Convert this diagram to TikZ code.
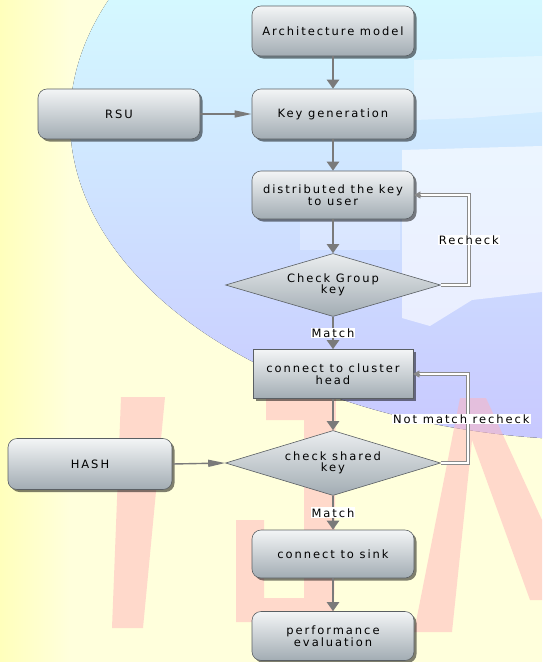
\documentclass[tikz,border=0pt]{standalone}
\usepackage{fontspec}
\newfontfamily\flowfont{DejaVu Sans}[LetterSpace=17]
\usetikzlibrary{shapes.geometric,shadows,arrows.meta}

\definecolor{bgcream}{HTML}{FFFFDC}
\definecolor{bgyellow}{HTML}{FFFFBC}
\definecolor{globetop}{HTML}{D4F8FF}
\definecolor{globebot}{HTML}{C8C8FF}
\definecolor{inkpink}{HTML}{FFB4BC}
\definecolor{boxtop}{HTML}{F3F5F6}
\definecolor{boxbot}{HTML}{A2ACB3}
\definecolor{boxline}{HTML}{5A5F63}
\definecolor{arrowgray}{HTML}{7A7A7A}
\definecolor{loopgray}{HTML}{8A8A8A}

\begin{document}
\begin{tikzpicture}[x=1pt,y=-1pt,
  txt/.style={font=\flowfont\fontsize{11.5}{11.5}\selectfont, text=black},
  box/.style={txt, rounded corners=9pt, draw=boxline, line width=0.6pt,
    top color=boxtop, bottom color=boxbot, align=center,
    minimum width=162pt, minimum height=50pt, inner sep=2pt,
    drop shadow={shadow xshift=2.5pt, shadow yshift=-2.5pt, opacity=0.5, fill=black}},
  decision/.style={txt, diamond, aspect=3.4, draw=boxline, line width=0.6pt,
    top color=boxtop!90!boxbot, bottom color=boxbot, align=center,
    minimum width=215pt, minimum height=63pt, inner sep=0pt},
  flow/.style={draw=arrowgray, line width=2.6pt, -{Triangle[width=12pt,length=9pt]}},
  side/.style={draw=arrowgray, line width=1.4pt, -{Triangle[width=7pt,length=17pt]}},
  loopline/.style={draw=loopgray, line width=0.9pt, double=white, double distance=1.8pt, shorten >=6pt},
  looptip/.style={draw=loopgray, fill=loopgray, line width=0.6pt, -{Triangle[width=7pt,length=6pt]}},
  tag/.style={txt, fill=white, inner sep=1pt}
]
\useasboundingbox (0,0) rectangle (542,662);
\clip (0,0) rectangle (542,662);

% paper background
\fill[bgcream] (0,0) rectangle (542,662);
\fill[left color=bgyellow, right color=bgcream] (0,0) rectangle (70,662);

% globe watermark
\begin{scope}
  \clip (600,120) ellipse [x radius=530, y radius=320];
  \fill[top color=globetop, bottom color=globebot] (0,0) rectangle (542,440);
  \fill[white, opacity=0.6] (402,150) -- (542,146) -- (542,292) -- (472,300)
    -- (430,326) -- (402,318) -- cycle;
  \fill[white, opacity=0.35] (414,60) -- (542,56) -- (542,112) -- (470,118)
    -- (414,120) -- cycle;
  \fill[white, opacity=0.25] (300,205) -- (400,205) -- (400,250) -- (300,250) -- cycle;
\end{scope}

% lettering watermark
\begin{scope}[opacity=0.5]
  \fill[inkpink] (121,397) -- (165,397) -- (143,628) -- (112,628) -- cycle;
  \fill[inkpink] (266,398) -- (336,398) -- (334,622) -- (236,622) -- (236,520)
    -- (264,520) -- (264,598) -- (304,598) -- (304,420) -- (266,420) -- cycle;
  \fill[inkpink] (414,632) -- (452,632) -- (472,440) -- (530,600) -- (542,600)
    -- (542,520) -- (486,398) -- (460,398) -- cycle;
\end{scope}

% process steps
\node[box] (arch) at (333,31) {Architecture model};
\node[box] (keyg) at (333,114) {Key generation};
\node[box] (rsu) at (119,114) {RSU};
\node[box, minimum height=48pt] (dist) at (333,195) {distributed the key\\to user};
\node[decision] (chkg) at (333,285) {Check Group\\key};
\node[box, rounded corners=0pt, minimum width=160pt, minimum height=49pt] (clus) at (333,374) {connect to cluster\\head};
\node[decision, minimum height=65pt] (chks) at (333,463) {check shared\\key};
\node[box, minimum width=164pt, minimum height=51pt] (hash) at (90,464) {HASH};
\node[box, minimum height=48pt] (sink) at (333,554) {connect to sink};
\node[box, minimum height=49pt] (perf) at (333,636) {performance\\evaluation};

% main flow
\draw[flow] (arch) -- (keyg);
\draw[side] (rsu) -- (keyg);
\draw[flow] (keyg) -- (dist);
\draw[flow] (dist) -- (chkg);
\draw[flow] (chkg) -- node[tag] {Match} (clus);
\draw[flow] (clus) -- (chks);
\draw[side] (hash.east) -- (chks.west);
\draw[flow] (chks) -- node[tag] {Match} (sink);
\draw[flow] (sink) -- (perf);

% recheck loops
\draw[loopline] (chkg.east) -- ++(28,0) coordinate (r1) -- (r1 |- dist.east) -- (dist.east);
\draw[looptip] ([xshift=7pt]dist.east) -- (dist.east);
\node[tag] at ([yshift=45pt]r1) {Recheck};

\draw[loopline] (chks.east) -- ++(27,0) coordinate (r2) -- (r2 |- clus.east) -- (clus.east);
\draw[looptip] ([xshift=7pt]clus.east) -- (clus.east);
\node[tag, anchor=west] at (392,419) {Not match recheck};
\end{tikzpicture}
\end{document}
